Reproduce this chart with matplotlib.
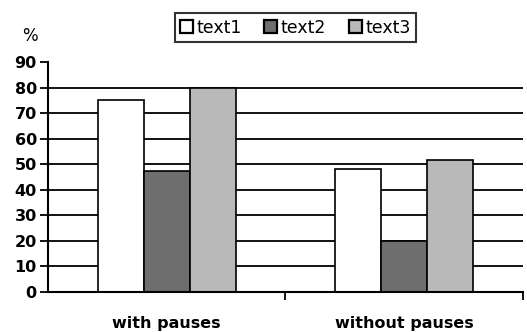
import matplotlib.pyplot as plt
import numpy as np

plt.rcParams['font.family'] = ['DejaVu Sans']

categories = ['with pauses', 'without pauses']
series = ['text1', 'text2', 'text3']
values = {
    'text1': [75, 48],
    'text2': [47.5, 20],
    'text3': [80, 51.5],
}
colors = ['white', '#6e6e6e', '#b9b9b9']
yticks = [0, 10, 20, 30, 40, 50, 60, 70, 80, 90]

fig = plt.figure(figsize=(5.27, 3.32), dpi=100)
ax = fig.add_axes([0.091, 0.1205, 0.9005, 0.6925])

x = np.arange(len(categories))
w = 0.194
for i, name in enumerate(series):
    ax.bar(x + (i - 1) * w, values[name], w, color=colors[i], edgecolor='black',
           linewidth=1.2, label=name, zorder=3)

# horizontal rules behind the bars (none at the top value)
for y in yticks[1:-1]:
    ax.axhline(y, color='black', linewidth=1.3, zorder=1)

ax.set_xlim(-0.5, 1.5)
ax.set_ylim(0, 90)
ax.set_yticks(yticks)
ax.set_yticklabels([str(t) for t in yticks], fontsize=11.5, fontweight='bold')
ax.tick_params(axis='y', direction='out', length=6, width=1.3, pad=2)

ax.set_xticks([0.5, 1.5], minor=True)
ax.set_xticks(x)
ax.set_xticklabels(categories, fontsize=11.5, fontweight='bold')
ax.tick_params(axis='x', which='major', length=0, pad=17)
ax.tick_params(axis='x', which='minor', direction='out', length=6, width=1.3)

for s in ['top', 'right']:
    ax.spines[s].set_visible(False)
for s in ['left', 'bottom']:
    ax.spines[s].set_linewidth(1.5)
ax.spines['bottom'].set_zorder(4)

fig.text(0.057, 0.893, '%', fontsize=12, ha='center', va='center')

leg = fig.legend(loc='center', bbox_to_anchor=(0.56, 0.917), ncol=3, frameon=True,
                 fontsize=12.5, handlelength=0.75, handleheight=0.75, handletextpad=0.2,
                 columnspacing=1.3, borderpad=0.3, fancybox=False, edgecolor='black')
leg.get_frame().set_linewidth(1.5)
for h in leg.legend_handles:
    h.set_linewidth(1.6)

fig.savefig('out.png', dpi=100)
